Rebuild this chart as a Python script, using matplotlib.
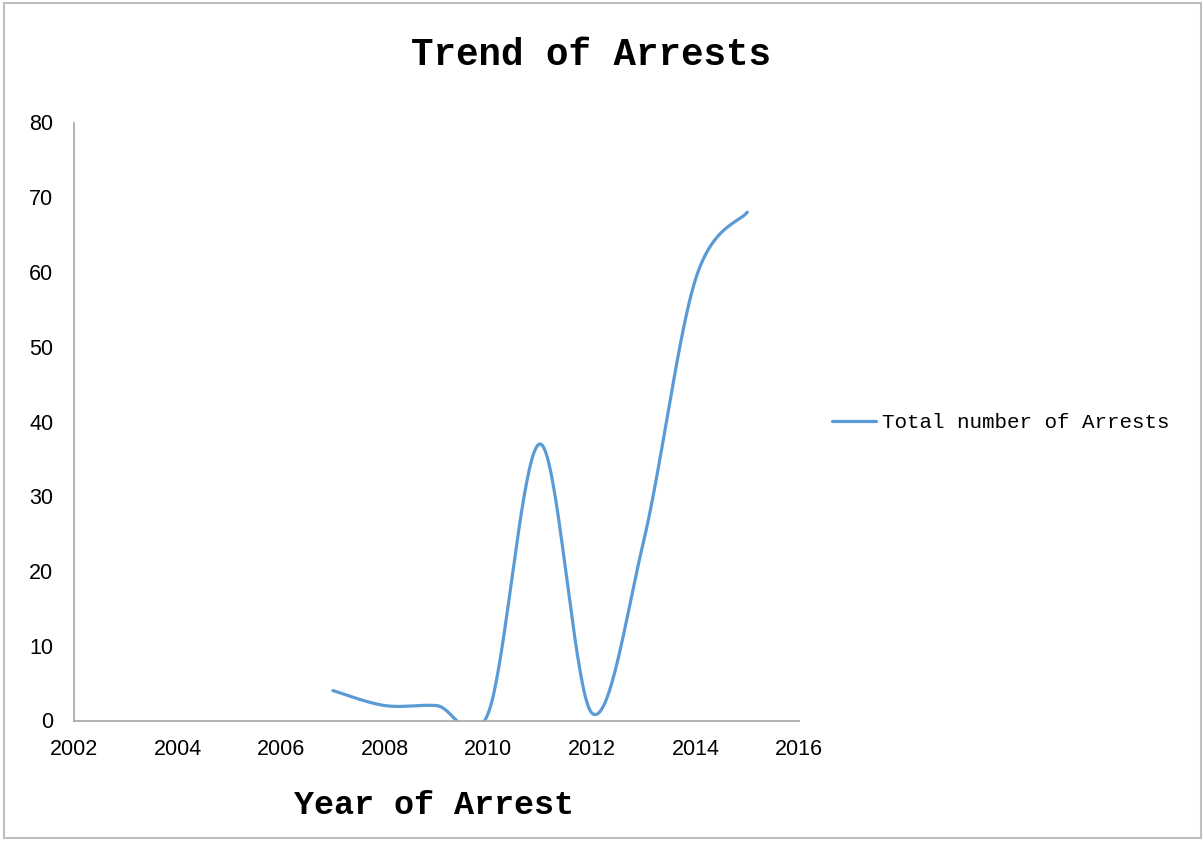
"""
Trend of Arrests - Excel 风格平滑折线图
"""
import matplotlib
matplotlib.use('Agg')

import matplotlib.pyplot as plt
from matplotlib.patches import Rectangle
import numpy as np

# 数据
years = [2007, 2008, 2009, 2010, 2011, 2012, 2013, 2014, 2015]
arrests = [4, 2, 2, 1, 37, 1, 24, 59, 68]

x_ticks = [2002, 2004, 2006, 2008, 2010, 2012, 2014, 2016]
y_ticks = [0, 10, 20, 30, 40, 50, 60, 70, 80]

COLORS = {
    "line": "#5b9bd5",
    "axis": "#a6a6a6",
    "frame": "#bfbfbf",
    "text": "#000000",
}


def excel_smooth(xs, ys, steps=40):
    """Excel 的平滑线：分段三次贝塞尔（Catmull-Rom 控制点）"""
    pts = np.column_stack([xs, ys]).astype(float)
    n = len(pts)
    out = [pts[0]]
    t = np.linspace(0, 1, steps)[1:, None]
    for i in range(n - 1):
        p0 = pts[i - 1] if i > 0 else pts[i]
        p1 = pts[i]
        p2 = pts[i + 1]
        p3 = pts[i + 2] if i + 2 < n else pts[i + 1]
        c1 = p1 + (p2 - p0) / 6
        c2 = p2 - (p3 - p1) / 6
        seg = ((1 - t) ** 3) * p1 + 3 * ((1 - t) ** 2) * t * c1 \
            + 3 * (1 - t) * t ** 2 * c2 + t ** 3 * p2
        out.extend(seg)
    out = np.array(out)
    return out[:, 0], out[:, 1]


fig = plt.figure(figsize=(12.03, 8.41), dpi=100, facecolor='white')

# 外框
fig.patches.append(Rectangle((0.003, 0.003), 0.995, 0.993, transform=fig.transFigure,
                             fill=False, edgecolor=COLORS["frame"], linewidth=1.5))

ax = fig.add_axes([74 / 1203, 1 - 720.5 / 841, 725 / 1203, 598 / 841])

sx, sy = excel_smooth(years, arrests)
ax.plot(sx, sy, color=COLORS["line"], linewidth=2.3, solid_capstyle='round',
        label='Total number of Arrests')

ax.set_xlim(2002, 2016)
ax.set_ylim(0, 80)
ax.set_xticks(x_ticks)
ax.set_yticks(y_ticks)

for side in ['top', 'right']:
    ax.spines[side].set_visible(False)
for side in ['left', 'bottom']:
    ax.spines[side].set_color(COLORS["axis"])
    ax.spines[side].set_linewidth(1.2)

ax.tick_params(axis='both', length=0, labelsize=15.5, colors=COLORS["text"])
ax.tick_params(axis='y', pad=15)
ax.tick_params(axis='x', pad=13)
for lab in ax.get_xticklabels() + ax.get_yticklabels():
    lab.set_fontfamily('Liberation Sans')

fig.text(591 / 1203, 1 - 55 / 841, 'Trend of Arrests', ha='center', va='center',
         fontsize=27, fontweight='bold', family='Liberation Mono')
fig.text(434 / 1203, 1 - 806 / 841, 'Year of Arrest', ha='center', va='center',
         fontsize=24, fontweight='bold', family='Liberation Mono')

leg = fig.legend(loc='center left', bbox_to_anchor=(832 / 1203, 1 - 423 / 841),
                 frameon=False, borderpad=0, borderaxespad=0,
                 handlelength=2.1, handletextpad=0.3,
                 prop={'family': 'Liberation Mono', 'size': 15})

fig.savefig('out.png', dpi=100, facecolor='white')
plt.close(fig)
